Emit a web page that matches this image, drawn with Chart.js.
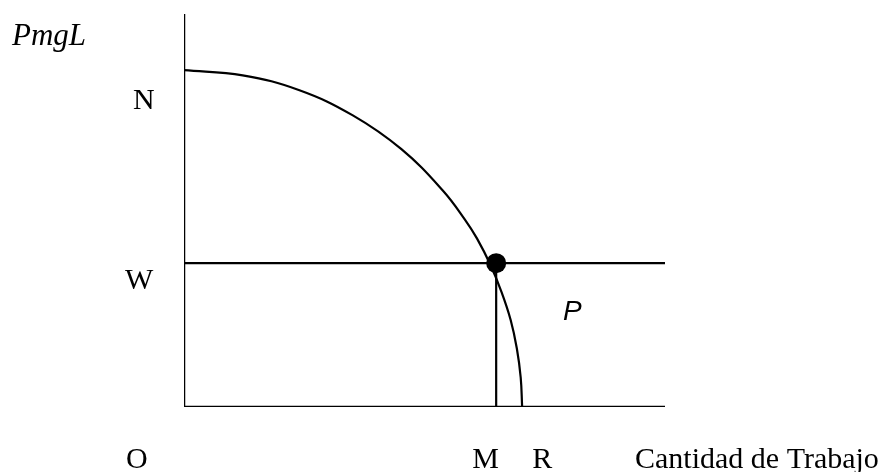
<!DOCTYPE html>
<html>
<head>
<meta charset="utf-8">
<script src="https://cdn.jsdelivr.net/npm/chart.js@4.4.1/dist/chart.umd.min.js"></script>
<style>
html,body{margin:0;padding:0;background:#fff;}
#wrap{width:896px;height:472px;position:relative;}
</style>
</head>
<body>
<div id="wrap"><canvas id="c" width="896" height="472"></canvas></div>
<script>
// Curve PmgL (x: cantidad de trabajo, y: PmgL), units 0..100
const curveX = [0, 12.2, 24.0, 35.1, 45.2, 53.8, 58.4, 60.9, 63.7, 66.0, 67.9, 69.2, 70.0, 70.3];
const curveY = [85.7, 84.4, 80.6, 74.2, 65.6, 55.1, 47.7, 42.9, 36.2, 29.3, 22.2, 14.9, 7.5, 0];
// Key levels
const wageLevel = 36.6;      // W
const nLevel = 85.7;         // N
const mPoint = 64.9;         // M
const rPoint = 70.3;         // R
const axisMax = 100;
// Tick labels
const yTickLabels = ['N', 'W'];
const yTickValues = [nLevel, wageLevel];
const xTickLabels = ['O', 'M', 'R'];
const xTickValues = [0, mPoint, rPoint];
const yTitle = 'PmgL';
const xTitle = 'Cantidad de Trabajo';
const areaLabel = 'P';

const curve = curveX.map((x, i) => ({x: x, y: curveY[i]}));
const black = '#000';

const labelsPlugin = {
  id: 'labels',
  afterDatasetsDraw(chart) {
    const ctx = chart.ctx;
    const xs = chart.scales.x, ys = chart.scales.y;
    ctx.save();
    ctx.fillStyle = black;
    ctx.textBaseline = 'alphabetic';
    ctx.textAlign = 'left';
    // y title
    ctx.font = 'italic 31px "Liberation Serif", "Times New Roman", serif';
    ctx.fillText(yTitle, 12, 45);
    // y tick labels
    ctx.font = '30px "Liberation Serif", "Times New Roman", serif';
    const yOffsets = [39, 26];
    const yLefts = [133, 125];
    yTickLabels.forEach((t, i) => {
      ctx.fillText(t, yLefts[i], ys.getPixelForValue(yTickValues[i]) + yOffsets[i]);
    });
    // x tick labels
    const base = xs.bottom + 61;
    const xShift = [-58, -24, 10];
    xTickLabels.forEach((t, i) => {
      ctx.fillText(t, xs.getPixelForValue(xTickValues[i]) + xShift[i], base);
    });
    // x title
    ctx.fillText(xTitle, 635, base);
    // area label
    ctx.font = 'italic 28px "Liberation Sans", Arial, sans-serif';
    ctx.fillText(areaLabel, 563, ys.getPixelForValue(wageLevel) + 57);
    ctx.restore();
  }
};

new Chart(document.getElementById('c'), {
  type: 'scatter',
  data: {
    datasets: [
      { data: curve, showLine: true, borderColor: black, borderWidth: 2.2, pointRadius: 0, tension: 0.4, fill: false },
      { data: [{x: 0, y: 0}, {x: 0, y: axisMax}], showLine: true, borderColor: black, borderWidth: 2.5, pointRadius: 0 },
      { data: [{x: 0, y: 0}, {x: axisMax, y: 0}], showLine: true, borderColor: black, borderWidth: 2.5, pointRadius: 0 },
      { data: [{x: 0, y: wageLevel}, {x: axisMax, y: wageLevel}], showLine: true, borderColor: black, borderWidth: 2.2, pointRadius: 0 },
      { data: [{x: mPoint, y: 0}, {x: mPoint, y: wageLevel}], showLine: true, borderColor: black, borderWidth: 2.2, pointRadius: 0 },
      { data: [{x: mPoint, y: wageLevel}], showLine: false, pointRadius: 10, pointBackgroundColor: black, pointBorderColor: black, pointBorderWidth: 0 }
    ]
  },
  options: {
    responsive: false,
    animation: false,
    layout: { padding: { left: 184, right: 231, top: 14, bottom: 65 } },
    scales: {
      x: { type: 'linear', min: 0, max: axisMax, display: false },
      y: { type: 'linear', min: 0, max: axisMax, display: false }
    },
    plugins: { legend: { display: false }, tooltip: { enabled: false } },
    elements: { line: { borderCapStyle: 'butt' } }
  },
  plugins: [labelsPlugin]
});
</script>
</body>
</html>
